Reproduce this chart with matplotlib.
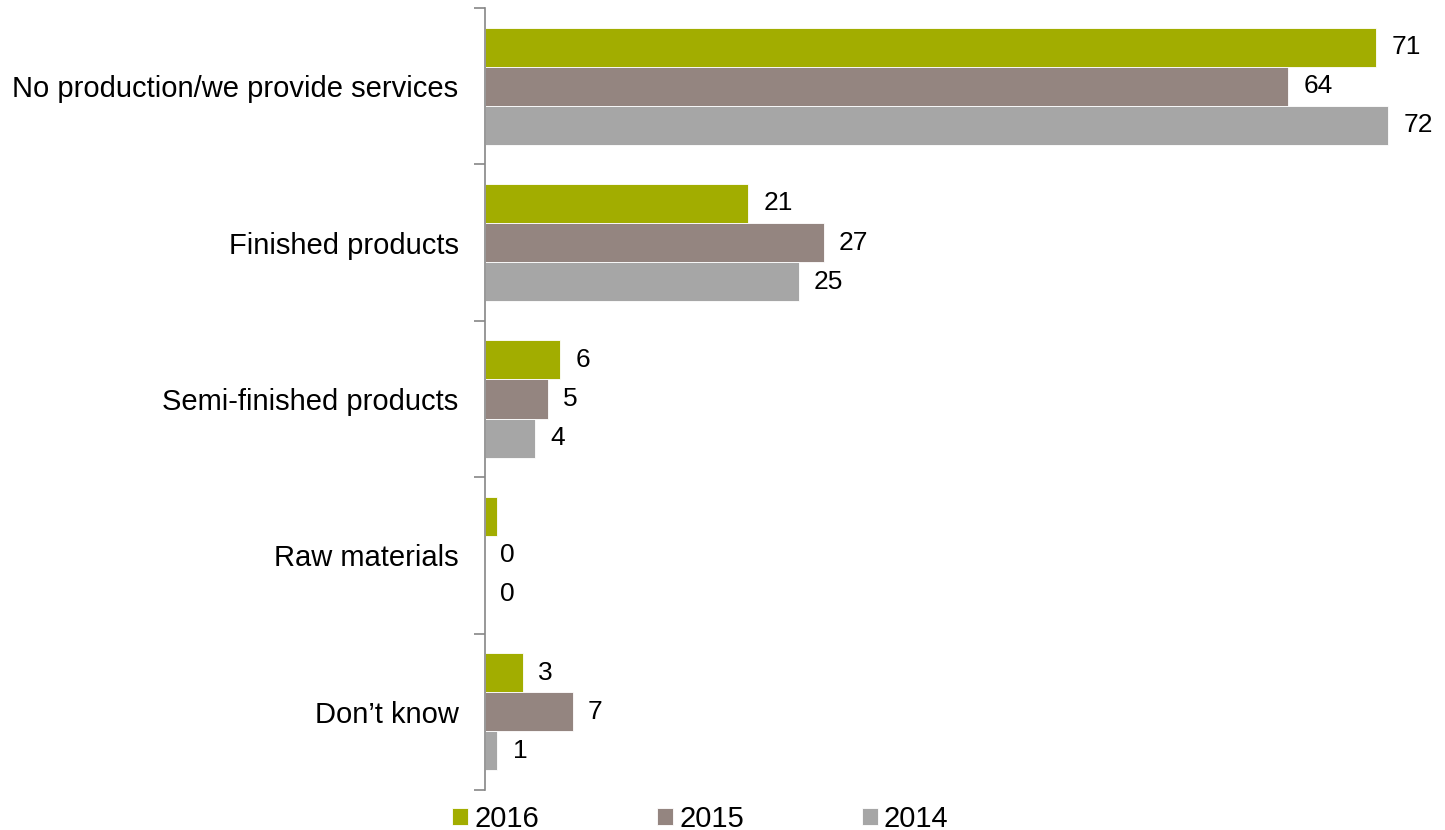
import matplotlib.pyplot as plt
import numpy as np

plt.rcParams['font.family'] = ['Liberation Sans', 'DejaVu Sans']

categories = ["No production/we provide services", "Finished products",
              "Semi-finished products", "Raw materials", "Don\u2019t know"]
years = ["2016", "2015", "2014"]
vals_2016 = [71, 21, 6, 1, 3]
vals_2015 = [64, 27, 5, 0, 7]
vals_2014 = [72, 25, 4, 0, 1]
# 2016 raw materials bar carries no value label
hide_label = {("2016", 3)}

colors = {"2016": "#A2AD00", "2015": "#948580", "2014": "#A6A6A6"}
series = {"2016": vals_2016, "2015": vals_2015, "2014": vals_2014}

fig = plt.figure(figsize=(14.45, 8.30), dpi=100)
ax = fig.add_axes([0.3356, 0.0482, 0.66, 0.9422])

y = np.arange(len(categories))
h = 0.25
for i, yr in enumerate(years):
    pos = y + (i - 1) * h
    vals = series[yr]
    ax.barh(pos, vals, height=h, color=colors[yr], edgecolor="white",
            linewidth=0.6, label=yr)
    for j, (p, v) in enumerate(zip(pos, vals)):
        if (yr, j) in hide_label:
            continue
        ax.annotate(str(v), (v, p), xytext=(11, 0), textcoords="offset points",
                    ha="left", va="center", fontsize=19, color="black")

ax.set_xlim(0, 76)
ax.set_ylim(len(categories) - 0.5, -0.5)
ax.set_yticks(y)
ax.set_yticklabels(categories, fontsize=21)
ax.tick_params(axis="y", which="major", length=0, pad=19)
ax.set_yticks(np.arange(-0.5, len(categories)), minor=True)
ax.tick_params(axis="y", which="minor", length=8, color="#868686", width=1.2)
ax.set_xticks([])

for s in ["top", "right", "bottom"]:
    ax.spines[s].set_visible(False)
ax.spines["left"].set_color("#868686")
ax.spines["left"].set_linewidth(1.2)

fig.legend(loc="center left", bbox_to_anchor=(0.305, 0.0135), ncol=3,
           frameon=False, fontsize=21, handlelength=0.55, handleheight=0.55,
           handletextpad=0.2, columnspacing=4.05, borderaxespad=0)

fig.savefig("out.png", dpi=100)
